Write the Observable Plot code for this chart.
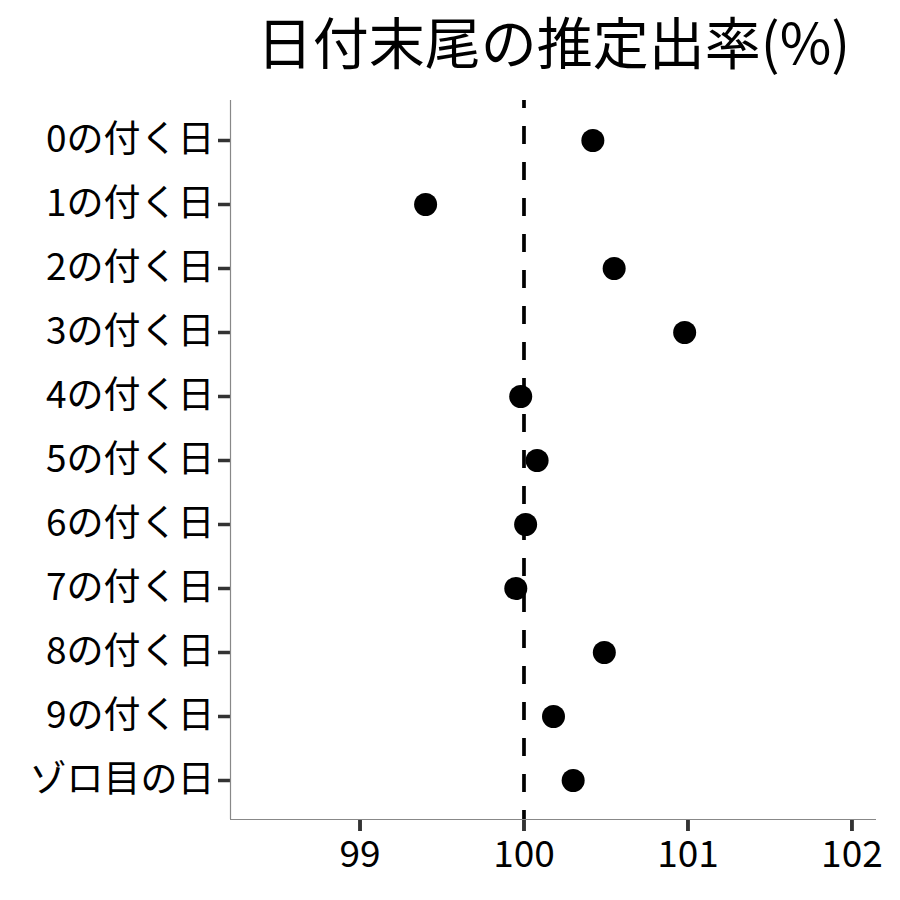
<!DOCTYPE html>
<html>
<head>
<meta charset="utf-8">
<script src="https://cdn.jsdelivr.net/npm/d3@7"></script>
<script src="https://cdn.jsdelivr.net/npm/@observablehq/plot@0.6"></script>
<style>
  body { margin: 0; background: #fff; }
  svg { font-family: "Noto Sans CJK JP", "Noto Sans", sans-serif; }
</style>
</head>
<body>
<div id="chart"></div>
<script>
const titleText = "日付末尾の推定出率(%)";
const categories = ["0の付く日","1の付く日","2の付く日","3の付く日","4の付く日","5の付く日","6の付く日","7の付く日","8の付く日","9の付く日","ゾロ目の日"];
const rates = [100.42, 99.40, 100.55, 100.98, 99.98, 100.08, 100.01, 99.95, 100.49, 100.18, 100.30];
const xTicks = [99, 100, 101, 102];
const xDomain = [98.21, 102.15];
const refValue = 100;

const data = categories.map((c, i) => ({category: c, rate: rates[i]}));

const W = 900, H = 900, mT = 100, mB = 81, mL = 230, mR = 24;
const frameH = H - mT - mB;
const tickLen = 12;

const chart = Plot.plot({
  width: W,
  height: H,
  marginLeft: mL,
  marginRight: mR,
  marginTop: mT,
  marginBottom: mB,
  style: {fontFamily: '"Noto Sans CJK JP", sans-serif', background: "#fff", color: "#000"},
  x: {domain: xDomain},
  y: {type: "point", domain: categories, padding: 0.6},
  marks: [
    Plot.axisX({ticks: xTicks, tickFormat: d3.format("d"), tickSize: tickLen, tickPadding: 9, fontSize: 37, stroke: "#333", strokeWidth: 3.5, fill: "#000", label: null}),
    Plot.axisY({tickSize: tickLen, tickPadding: 4, fontSize: 37, stroke: "#333", strokeWidth: 3.5, fill: "#000", label: null}),
    // x tick marks below the frame
    Plot.ruleX(xTicks, {insetTop: frameH, insetBottom: -tickLen, stroke: "#333", strokeWidth: 3.5}),
    // axis lines (left and bottom)
    Plot.ruleX([xDomain[0]], {stroke: "#888", strokeWidth: 1.2}),
    Plot.ruleY([0], {y: null, dy: frameH / 2, stroke: "#888", strokeWidth: 1.2}),
    Plot.ruleX([refValue], {stroke: "#000", strokeWidth: 3.7, strokeDasharray: "18,18", strokeDashoffset: 10}),
    Plot.dot(data, {x: "rate", y: "category", r: 11.5, fill: "#000", stroke: "none"}),
    Plot.text([titleText], {frameAnchor: "top", dy: -54, fontSize: 56, fill: "#000", lineAnchor: "middle"})
  ]
});
document.getElementById("chart").appendChild(chart);
</script>
</body>
</html>
